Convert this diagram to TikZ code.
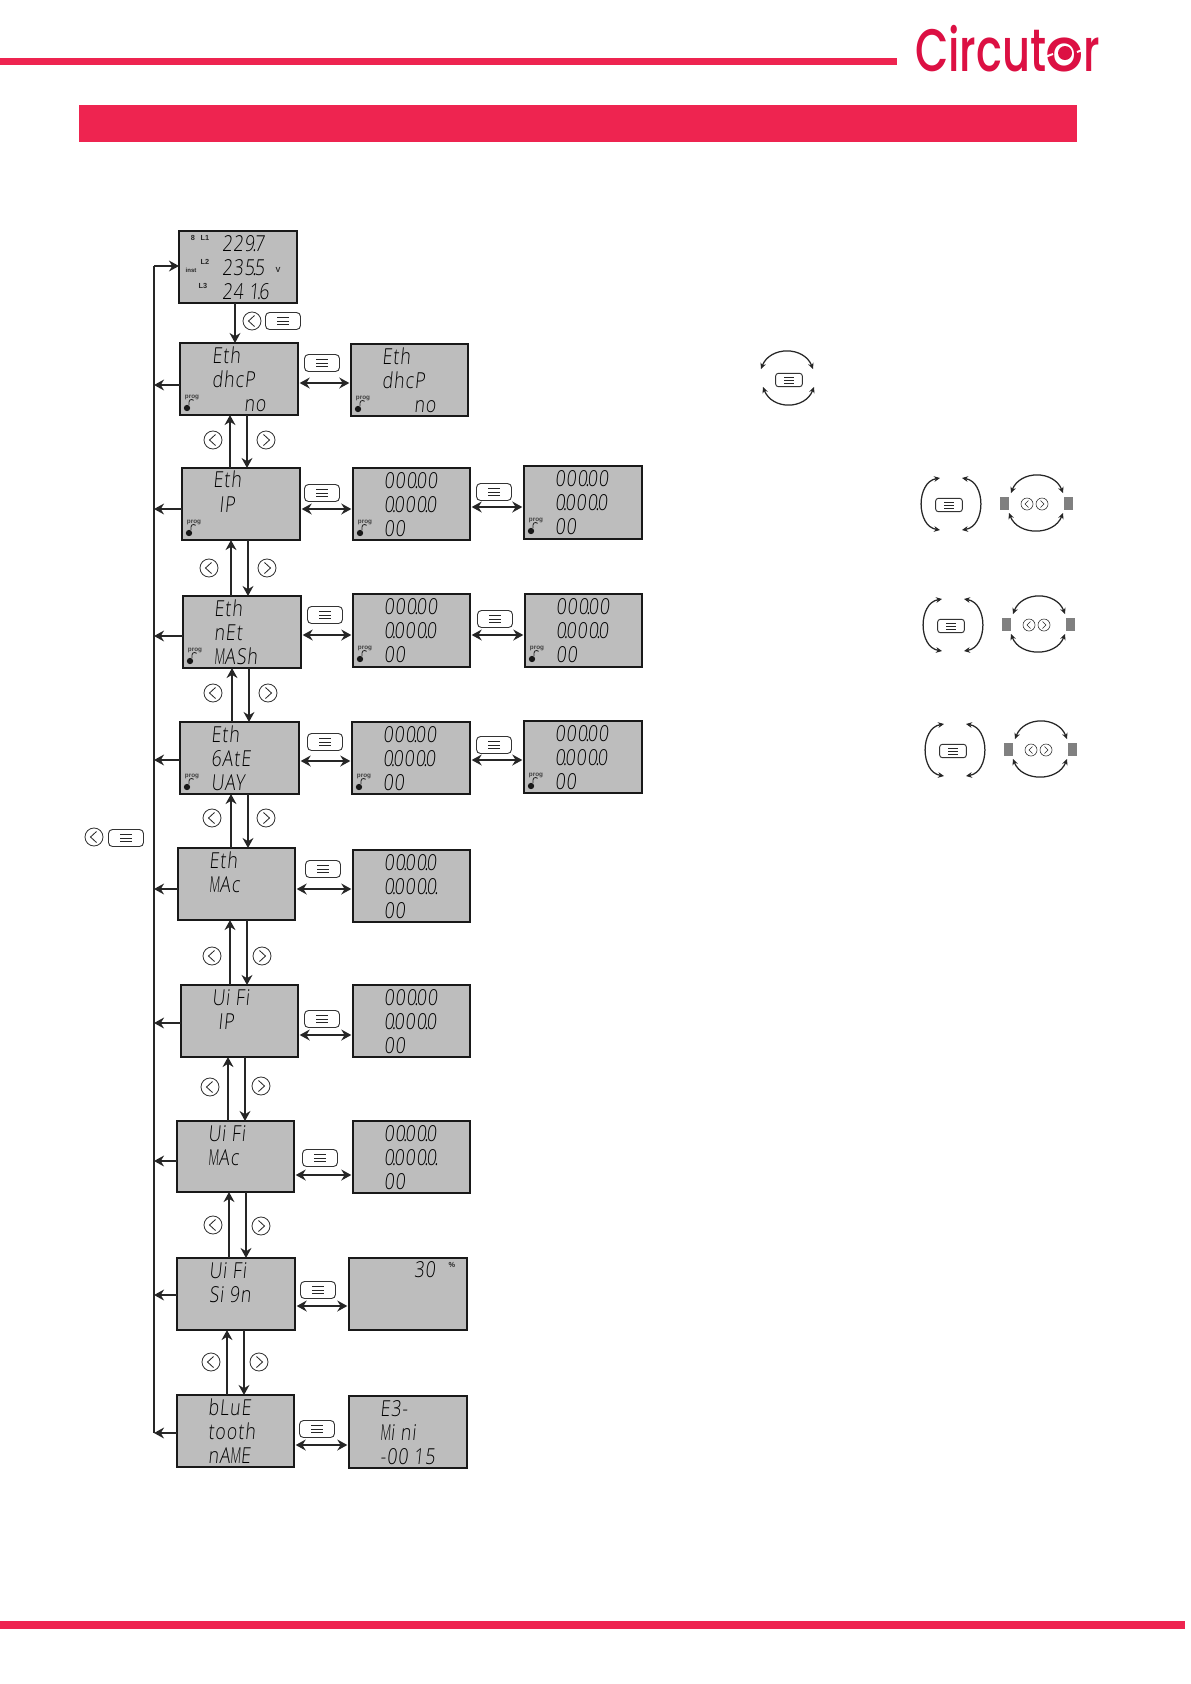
\documentclass[tikz,border=0pt]{standalone}
\usepackage{fontspec}
\setmainfont{Liberation Sans}
\newfontfamily\lcdf[FakeStretch=.8,FakeSlant=.1,LetterSpace=5,UprightFont=* Light]{Open Sans}
\newfontfamily\logof[FakeStretch=.72,UprightFont=* Medium]{Poppins}
\newfontfamily\logoo[UprightFont=* Medium]{Poppins}
\usetikzlibrary{arrows.meta,calc}
\definecolor{brand}{HTML}{EE2450}
\definecolor{logoc}{HTML}{DC1043}
\definecolor{lcd}{HTML}{BDBDBD}
\newcounter{tn}
\tikzset{
 x=0.6pt,y=-0.6pt,
 lcdbox/.style={draw=black!90,fill=lcd,line width=1.1pt,inner sep=0,outer sep=0},
 heavy/.style={line width=1.7pt},
 lcdtxt/.style={inner sep=0,outer sep=0,anchor=base west,font=\fontsize{13.2}{14}\lcdf,text=black},
 proglbl/.style={inner sep=0,outer sep=0,anchor=center,font=\fontsize{3.8}{4}\bfseries,text=black!75},
 smalllbl/.style={inner sep=0,outer sep=0,anchor=center,font=\fontsize{4.4}{5}\bfseries,text=black!85},
 link/.style={line width=1.1pt,draw=black!85,-{Stealth[length=6pt,width=6.5pt]}},
 dlink/.style={line width=1.1pt,draw=black!85,{Stealth[length=6pt,width=6.5pt]}-{Stealth[length=6pt,width=6.5pt]},shorten <=1pt,shorten >=1pt},
 bus/.style={line width=1.1pt,draw=black!85},
 menubtn/.style={draw=black!80,fill=white,line width=.55pt,rounded corners=2.4pt,minimum width=21pt,minimum height=10.2pt,inner sep=0,outer sep=0},
 circbtn/.style={draw=black!80,fill=white,line width=.5pt,circle,minimum size=10.8pt,inner sep=0,outer sep=0},
 thin mark/.style={line width=.5pt,draw=black!85},
 curve/.style={line width=.75pt,draw=black!85,{Stealth[length=3.6pt,width=3.4pt]}-{Stealth[length=3.6pt,width=3.4pt]}},
}
\newcommand{\lcdB}[6][]{\node[lcdbox,#1,minimum width={(#5-#3)*0.6pt},minimum height={(#6-#4)*0.6pt}] (#2) at ({(#3+#5)/2},{(#4+#6)/2}) {};}
\newcommand{\lcdT}[4]{\stepcounter{tn}\node[lcdtxt] (t\arabic{tn}) at ($(#1.north west)+(#2,#3)$) {#4};}
\newcommand{\threeT}[4]{\lcdT{#1}{31}{20}{#2}\lcdT{#1}{31}{44}{#3}\lcdT{#1}{31}{68}{#4}}
\newcommand{\progM}[1]{\stepcounter{tn}\node[proglbl] (t\arabic{tn}) at ($(#1.north west)+(12,54)$) {prog};
 \fill[black!90] ($(#1.north west)+(7,65)$) circle (1.9pt);
 \draw[line width=.5pt,black!85] ($(#1.north west)+(9,62)$) -- ++(0,-3) arc (180:320:2.6);}
\newcommand{\menuB}[3]{\begin{scope}[shift={(#2,#3)}]\node[menubtn] (#1) at (0,0) {};
 \draw[thin mark] (-6,-3.5) -- (6,-3.5) (-6,0) -- (6,0) (-6,3.5) -- (6,3.5);\end{scope}}
\newcommand{\leftB}[3]{\begin{scope}[shift={(#2,#3)}]\node[circbtn] (#1) at (0,0) {};
 \draw[thin mark] (2.5,-5.5) -- (-3.5,0) -- (2.5,5.5);\end{scope}}
\newcommand{\rightB}[3]{\begin{scope}[shift={(#2,#3)}]\node[circbtn] (#1) at (0,0) {};
 \draw[thin mark] (-2.5,-5.5) -- (3.5,0) -- (-2.5,5.5);\end{scope}}
\newcommand{\vlinks}[5][]{\draw[link,#1] (#3.north -| #4,0) -- (#2.south -| #4,0);\draw[link,#1] (#2.south -| #5,0) -- (#3.north -| #5,0);}
\newcommand{\hlink}[3]{\draw[dlink] (#1.east |- 0,#3) -- (#2.west |- 0,#3);}
\newcommand{\buslink}[3][]{\draw[link,#1] (#2.west |- 0,#3) -- (bustop |- 0,#3);}
\newcommand{\dt}{\hbox to 0pt{\hss.\hss}}
\newcommand{\Mm}{\scalebox{.7}[1]{M}}
\newcommand{\groupI}[3]{\begin{scope}[shift={(#2,#3)}]
 \node[menubtn,minimum width=16pt,minimum height=8pt,rounded corners=1.6pt] (#1m) at (949,505) {};
 \draw[thin mark,line width=.4pt] (944,502) -- (954,502) (944,505) -- (954,505) (944,508) -- (954,508);
 \draw[curve] (940,478) .. controls (916,482) and (916,526) .. (940,530);
 \draw[curve] (962,478) .. controls (986,482) and (986,526) .. (962,530);
 \fill[black!50] (1000,497) rectangle (1009,510);
 \fill[black!50] (1064,497) rectangle (1073,510);
 \node[circbtn,minimum size=7.2pt,line width=.35pt] (#1l) at (1027,504) {};
 \draw[thin mark,line width=.35pt] (1028.5,500.5) -- (1025,504) -- (1028.5,507.5);
 \node[circbtn,minimum size=7.2pt,line width=.35pt] (#1r) at (1042,504) {};
 \draw[thin mark,line width=.35pt] (1040.5,500.5) -- (1044,504) -- (1040.5,507.5);
 \draw[curve] (1011,493) .. controls (1020,470) and (1054,470) .. (1063,493);
 \draw[curve] (1009,513) .. controls (1018,536) and (1054,536) .. (1063,513);
\end{scope}}
\begin{document}
\begin{tikzpicture}
\useasboundingbox (0,0) rectangle (1191,1684);
\fill[white] (0,0) rectangle (1191,1684);
% header and footer
\fill[brand] (0,58) rectangle (897,65);
\fill[brand] (79,105) rectangle (1077,142);
\fill[brand] (0,1621) rectangle (1185,1629);
\node[inner sep=0,outer sep=0,anchor=base west,font=\fontsize{36}{38}\logof,text=logoc] (logo1) at (915,71) {Circut};
\node[inner sep=0,outer sep=0,anchor=base,font=\fontsize{36}{38}\logoo,text=logoc] (logo2) at (1065,71) {o};
\node[inner sep=0,outer sep=0,anchor=base west,font=\fontsize{36}{38}\logof,text=logoc] (logo3) at (1083,71) {r};
\fill[logoc] (1065,53) circle (4.2pt);
\draw[white,line width=1.2pt] (1045,57) -- (1053,54) (1077,52) -- (1085,49);
% boxes
\lcdB{r1}{179}{231}{297}{303}
\lcdB{r2}{180}{343}{298}{415}
\lcdB{r2b}{351}{344}{468}{416}
\lcdB[heavy]{r3}{182}{468}{300}{540}
\lcdB{r3b}{353}{468}{470}{540}
\lcdB{r3c}{524}{466}{642}{539}
\lcdB{r4}{183}{596}{301}{668}
\lcdB[heavy]{r4b}{353}{594}{470}{667}
\lcdB[heavy]{r4c}{525}{594}{642}{667}
\lcdB[heavy]{r5}{180}{722}{299}{794}
\lcdB{r5b}{352}{722}{470}{794}
\lcdB{r5c}{524}{721}{642}{793}
\lcdB[heavy]{r6}{178}{848}{295}{920}
\lcdB{r6b}{353}{850}{470}{922}
\lcdB{r7}{181}{985}{298}{1057}
\lcdB{r7b}{353}{985}{470}{1057}
\lcdB[heavy]{r8}{177}{1121}{294}{1192}
\lcdB{r8b}{353}{1121}{470}{1193}
\lcdB[heavy]{r9}{177}{1258}{295}{1330}
\lcdB{r9b}{349}{1258}{467}{1330}
\lcdB{r10}{177}{1395}{294}{1467}
\lcdB[heavy]{r10b}{349}{1396}{467}{1468}
% first screen
\lcdT{r1}{43}{20}{229\dt7}
\lcdT{r1}{43}{44}{235\dt5}
\lcdT{r1}{43}{68}{24 1\dt6}
\node[smalllbl] (s0) at (193,238) {8};
\node[smalllbl] (s1) at (205,238) {L1};
\node[smalllbl] (s2) at (205,262) {L2};
\node[smalllbl] (s3) at (203,286) {L3};
\node[smalllbl,font=\fontsize{3.6}{4}\bfseries] (s4) at (191,270) {inst};
\node[smalllbl] (s5) at (278,270) {V};
% screen texts
\lcdT{r2}{32}{20}{Eth}\lcdT{r2}{32}{44}{dhcP}
\lcdT{r2}{64}{68}{no}\progM{r2}
\lcdT{r2b}{31}{20}{Eth}\lcdT{r2b}{31}{44}{dhcP}
\lcdT{r2b}{63}{68}{no}\progM{r2b}
\lcdT{r3}{31}{19}{Eth}\lcdT{r3}{37}{44}{IP}\progM{r3}
\threeT{r3b}{000\dt00}{0\dt000\dt0}{00}\progM{r3b}
\threeT{r3c}{000\dt00}{0\dt000\dt0}{00}\progM{r3c}
\threeT{r4}{Eth}{nEt}{\Mm ASh}\progM{r4}
\threeT{r4b}{000\dt00}{0\dt000\dt0}{00}\progM{r4b}
\threeT{r4c}{000\dt00}{0\dt000\dt0}{00}\progM{r4c}
\threeT{r5}{Eth}{6AtE}{UAY}\progM{r5}
\threeT{r5b}{000\dt00}{0\dt000\dt0}{00}\progM{r5b}
\threeT{r5c}{000\dt00}{0\dt000\dt0}{00}\progM{r5c}
\lcdT{r6}{31}{20}{Eth}\lcdT{r6}{31}{44}{\Mm Ac}
\threeT{r6b}{00\dt00\dt0}{0\dt000\dt0\dt}{00}
\lcdT{r7}{31}{20}{Ui Fi}\lcdT{r7}{37}{44}{IP}
\threeT{r7b}{000\dt00}{0\dt000\dt0}{00}
\lcdT{r8}{31}{20}{Ui Fi}\lcdT{r8}{31}{44}{\Mm Ac}
\threeT{r8b}{00\dt00\dt0}{0\dt000\dt0\dt}{00}
\lcdT{r9}{32}{20}{Ui Fi}\lcdT{r9}{32}{44}{Si 9n}
\lcdT{r9b}{65}{19}{30}
\node[smalllbl] (s6) at (452,1265) {\%};
\threeT{r10}{bLuE}{tooth}{nA\Mm E}
\threeT{r10b}{E3-}{\Mm i ni}{-00 15}
% buttons
\leftB{a1}{252}{321}\menuB{a2}{283}{321}
\menuB{m2}{322}{363}
\leftB{l2}{213}{440}\rightB{g2}{266}{440}
\menuB{m3}{322}{493}\menuB{n3}{494}{492}
\leftB{l3}{209}{568}\rightB{g3}{267}{568}
\menuB{m4}{325}{615}\menuB{n4}{495}{619}
\leftB{l4}{213}{693}\rightB{g4}{268}{693}
\menuB{m5}{325}{742}\menuB{n5}{494}{745}
\leftB{l5}{212}{818}\rightB{g5}{266}{818}
\menuB{m6}{323}{869}
\leftB{l6}{212}{956}\rightB{g6}{262}{956}
\menuB{m7}{322}{1019}
\leftB{l7}{210}{1087}\rightB{g7}{261}{1086}
\menuB{m8}{320}{1158}
\leftB{l8}{213}{1225}\rightB{g8}{261}{1226}
\menuB{m9}{318}{1290}
\leftB{l9}{211}{1362}\rightB{g9}{259}{1362}
\menuB{m10}{317}{1429}
\leftB{h1}{94}{837}\menuB{h2}{126}{838}
% vertical connectors
\draw[link] (r1.south -| 235,0) -- (r2.north -| 235,0);
\vlinks[heavy]{r2}{r3}{230}{247}
\vlinks{r3}{r4}{231}{248}
\vlinks{r4}{r5}{232}{249}
\vlinks{r5}{r6}{231}{248}
\vlinks{r6}{r7}{230}{247}
\vlinks[heavy]{r7}{r8}{228}{245}
\vlinks{r8}{r9}{229}{246}
\vlinks{r9}{r10}{227}{244}
% horizontal connectors
\hlink{r2}{r2b}{383}
\hlink{r3}{r3b}{509}\hlink{r3b}{r3c}{507}
\hlink{r4}{r4b}{635}\hlink{r4b}{r4c}{635}
\hlink{r5}{r5b}{761}\hlink{r5b}{r5c}{760}
\hlink{r6}{r6b}{889}
\hlink{r7}{r7b}{1035}
\hlink{r8}{r8b}{1175}
\hlink{r9}{r9b}{1306}
\hlink{r10}{r10b}{1445}
% return bus
\coordinate (bustop) at (154,266);
\coordinate (busend) at (154,1433);
\draw[bus] (bustop) -- (busend);
\draw[link] (bustop) -- (r1.west |- bustop);
\buslink{r2}{385}\buslink{r3}{509}\buslink{r4}{636}\buslink[heavy]{r5}{760}\buslink{r6}{889}
\buslink[heavy]{r7}{1023}\buslink[heavy]{r8}{1161}\buslink{r9}{1295}\buslink{r10}{1433}
% legend top
\node[menubtn,minimum width=16pt,minimum height=8pt,rounded corners=1.6pt] (k0) at (789,380) {};
\draw[thin mark,line width=.4pt] (784,377) -- (794,377) (784,380) -- (794,380) (784,383) -- (794,383);
\draw[curve] (761,369) .. controls (770,346) and (804,346) .. (813,369);
\draw[curve] (763,387) .. controls (772,410) and (805,410) .. (814,387);
\groupI{k1}{0}{0}
\groupI{k2}{2}{121}
\groupI{k3}{4}{246}
\end{tikzpicture}
\end{document}
